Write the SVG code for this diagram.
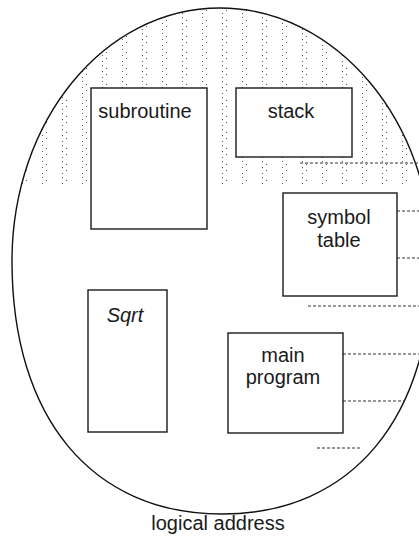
<svg xmlns="http://www.w3.org/2000/svg" width="419" height="547" viewBox="0 0 419 547">
  <style>
    .box { fill: #ffffff; stroke: #1a1a1a; stroke-width: 1.4; }
    .lbl { font-family: "Liberation Sans", Arial, sans-serif; font-size: 20px; fill: #1a1a1a; text-anchor: middle; }
    .lead { stroke: #333; stroke-width: 1; stroke-dasharray: 3 2; fill: none; }
  </style>
  <defs>
    <pattern id="stip" x="0" y="0" width="20" height="16" patternUnits="userSpaceOnUse">
      <g fill="#555">
        <rect x="2" y="1" width="1" height="1"/>
        <rect x="6" y="4" width="1" height="1"/>
        <rect x="2" y="7" width="1" height="1"/>
        <rect x="6" y="10" width="1" height="1"/>
        <rect x="2" y="13" width="1" height="1"/>
      </g>
    </pattern>
    <path id="outline" d="M220,8 C336,8 432,121 432,261 C432,418 352,514 222,514 C92,514 12,418 12,261 C12,121 104,8 220,8 Z"/>
    <clipPath id="ellClip">
      <use href="#outline"/>
    </clipPath>
  </defs>
  <rect width="419" height="547" fill="#ffffff"/>
  <g id="address-space">
    <rect x="0" y="0" width="419" height="185" fill="url(#stip)" clip-path="url(#ellClip)"/>
    <use href="#outline" fill="none" stroke="#111" stroke-width="1.4"/>
  </g>
  <g id="connectors">
    <line class="lead" x1="300" y1="163" x2="419" y2="163"/>
    <line class="lead" x1="397" y1="211" x2="419" y2="211"/>
    <line class="lead" x1="397" y1="258" x2="419" y2="258"/>
    <line class="lead" x1="308" y1="306" x2="419" y2="306"/>
    <line class="lead" x1="343" y1="354" x2="419" y2="354"/>
    <line class="lead" x1="343" y1="401" x2="405" y2="401"/>
    <line class="lead" x1="317" y1="448" x2="360" y2="448"/>
  </g>
  <g id="subroutine">
    <rect class="box" x="91" y="88" width="116" height="141"/>
    <text class="lbl" x="145" y="118">subroutine</text>
  </g>
  <g id="stack">
    <rect class="box" x="236" y="88" width="116" height="69"/>
    <text class="lbl" x="291" y="118">stack</text>
  </g>
  <g id="symbol-table">
    <rect class="box" x="283" y="193" width="114" height="103"/>
    <text class="lbl" x="339" y="224">symbol</text>
    <text class="lbl" x="339" y="247">table</text>
  </g>
  <g id="sqrt">
    <rect class="box" x="88" y="290" width="79" height="142"/>
    <text class="lbl" x="125" y="322" font-style="italic">Sqrt</text>
  </g>
  <g id="main-program">
    <rect class="box" x="228" y="333" width="115" height="100"/>
    <text class="lbl" x="283" y="362">main</text>
    <text class="lbl" x="283" y="384">program</text>
  </g>
  <g id="caption">
    <text class="lbl" x="218" y="530">logical address</text>
  </g>
</svg>
